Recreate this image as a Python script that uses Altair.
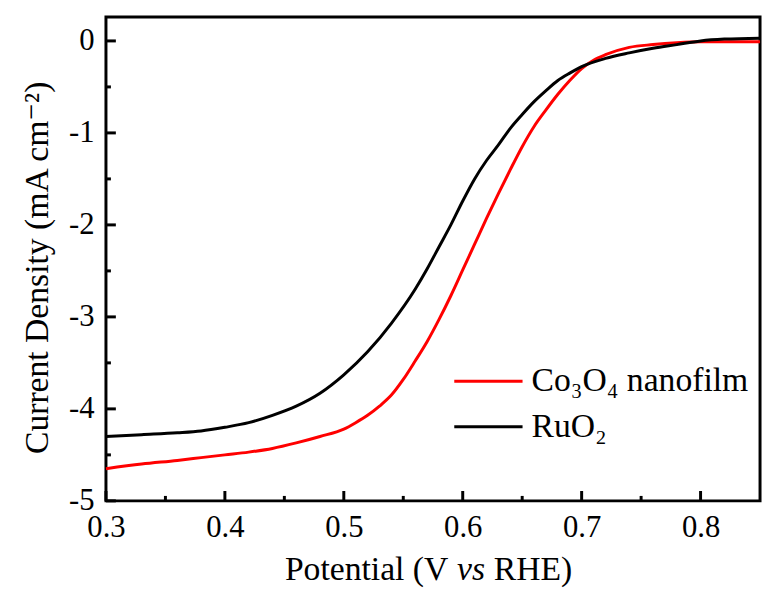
import altair as alt
import pandas as pd

# ---- data ----
potential_co3o4 = [0.30, 0.33, 0.36, 0.38, 0.40, 0.42, 0.44, 0.46, 0.48, 0.50, 0.51, 0.52,
                   0.53, 0.54, 0.55, 0.56, 0.57, 0.58, 0.59, 0.60, 0.61, 0.62, 0.63, 0.64,
                   0.65, 0.66, 0.67, 0.68, 0.69, 0.70, 0.71, 0.72, 0.74, 0.76, 0.78, 0.80, 0.85]
current_co3o4 = [-4.65, -4.60, -4.56, -4.53, -4.50, -4.47, -4.43, -4.37, -4.30, -4.22, -4.15, -4.07,
                 -3.97, -3.85, -3.68, -3.48, -3.27, -3.03, -2.77, -2.49, -2.21, -1.93, -1.66, -1.40,
                 -1.15, -0.93, -0.75, -0.58, -0.43, -0.30, -0.21, -0.15, -0.07, -0.04, -0.02, -0.01, -0.01]

potential_ruo2 = [0.30, 0.33, 0.36, 0.38, 0.40, 0.42, 0.44, 0.46, 0.48, 0.50, 0.52, 0.54,
                  0.56, 0.57, 0.58, 0.59, 0.60, 0.61, 0.62, 0.63, 0.64, 0.65, 0.66, 0.67,
                  0.68, 0.69, 0.70, 0.72, 0.74, 0.76, 0.78, 0.80, 0.82, 0.85]
current_ruo2 = [-4.30, -4.28, -4.26, -4.24, -4.20, -4.15, -4.07, -3.97, -3.83, -3.63, -3.38, -3.07,
                -2.70, -2.48, -2.24, -2.00, -1.74, -1.50, -1.30, -1.13, -0.95, -0.80, -0.66, -0.54,
                -0.43, -0.35, -0.28, -0.19, -0.13, -0.08, -0.04, 0.00, 0.02, 0.03]

series_names = ["Co\u2083O\u2084 nanofilm", "RuO\u2082"]
series_colors = ["#ff0000", "#000000"]

x_major = [0.3, 0.4, 0.5, 0.6, 0.7, 0.8]
x_minor = [0.35, 0.45, 0.55, 0.65, 0.75]
y_major = [0, -1, -2, -3, -4, -5]
y_minor = [-0.5, -1.5, -2.5, -3.5, -4.5]

x_title_parts = ["Potential (V", "vs", "RHE)"]
y_title = "Current Density (mA cm\u207b\u00b2)"

# ---- layout ----
W, H = 661, 489
FONT = "Times New Roman, Liberation Serif, DejaVu Serif, serif"

df = pd.concat([
    pd.DataFrame({"potential": potential_co3o4, "current": current_co3o4, "series": series_names[0]}),
    pd.DataFrame({"potential": potential_ruo2, "current": current_ruo2, "series": series_names[1]}),
], ignore_index=True)

xscale = alt.Scale(domain=[0.3, 0.85], nice=False, zero=False)
yscale = alt.Scale(domain=[-5, 0.26], nice=False, zero=False)

x_axis = alt.Axis(values=x_major, format=".1f", title=None, ticks=False, tickSize=0,
                  domain=False, grid=False, labelPadding=12, labelFontSize=31, labelFlush=False,
                  labelFont=FONT, labelColor="black")
y_axis = alt.Axis(values=y_major,
                  labelExpr="datum.value == 0 ? '0' : '-' + abs(datum.value)",
                  title=y_title, titleFont=FONT, titleFontSize=34, titleFontWeight="normal",
                  titleColor="black", titlePadding=14, titleY=253,
                  ticks=False, tickSize=0, domain=False, grid=False, labelPadding=12,
                  labelFlush=False, labelFontSize=31, labelFont=FONT, labelColor="black")

lines = alt.Chart(df).mark_line(strokeWidth=3, interpolate="monotone").encode(
    x=alt.X("potential:Q", scale=xscale, axis=x_axis),
    y=alt.Y("current:Q", scale=yscale, axis=y_axis),
    color=alt.Color("series:N", scale=alt.Scale(domain=series_names, range=series_colors),
                    legend=None),
)

def xticks(vals, length):
    return alt.Chart(pd.DataFrame({"potential": vals})).mark_rule(color="black", strokeWidth=3).encode(
        x=alt.X("potential:Q", scale=xscale, axis=x_axis),
        y=alt.value(H), y2=alt.value(H - length))

def yticks(vals, length):
    return alt.Chart(pd.DataFrame({"current": vals})).mark_rule(color="black", strokeWidth=3).encode(
        y=alt.Y("current:Q", scale=yscale, axis=y_axis),
        x=alt.value(0), x2=alt.value(length))

def title_part(text, x, align, style):
    return alt.Chart(pd.DataFrame({"t": [text]})).mark_text(
        font=FONT, fontSize=34, fontStyle=style, align=align, baseline="alphabetic", color="black"
    ).encode(text="t:N", x=alt.value(x), y=alt.value(H + 80))

# legend (drawn as a small key inside the plot)
LEG_X, LEG_Y0, LEG_DY, LEG_LEN = 352, 368, 46, 69

def legend_entry(i):
    d = pd.DataFrame({"label": [series_names[i]]})
    y = LEG_Y0 + i * LEG_DY
    key = alt.Chart(d).mark_rule(color=series_colors[i], strokeWidth=3).encode(
        x=alt.value(LEG_X), x2=alt.value(LEG_X + LEG_LEN), y=alt.value(y))
    txt = alt.Chart(d).mark_text(font=FONT, fontSize=34, align="left", baseline="middle",
                                 color="black").encode(
        text="label:N", x=alt.value(LEG_X + LEG_LEN + 9), y=alt.value(y))
    return key + txt

chart = alt.layer(
    lines,
    xticks(x_major, 10), xticks(x_minor, 5),
    yticks(y_major, 10), yticks(y_minor, 5),
    title_part(x_title_parts[0], 346, "right", "normal"),
    title_part(x_title_parts[1], 369, "center", "italic"),
    title_part(x_title_parts[2], 392, "left", "normal"),
    legend_entry(0), legend_entry(1),
).properties(
    width=W, height=H,
    autosize=alt.AutoSizeParams(type="none"),
    padding={"left": 99, "top": 6, "right": 3, "bottom": 90},
    background="white",
).configure_view(stroke="black", strokeWidth=3)

chart.save("out.html", embed_options={"renderer": "svg", "actions": False})
